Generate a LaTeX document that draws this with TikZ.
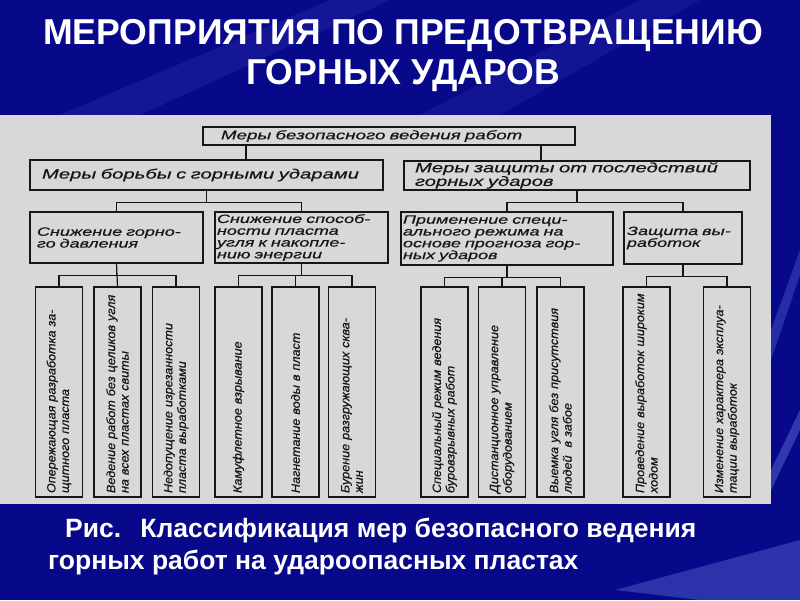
\documentclass[tikz,border=0pt]{standalone}
\usepackage{fontspec}
\setmainfont{Liberation Sans}
\newfontfamily\schemefont[FakeStretch=1.5,FakeBold=0.6]{Liberation Sans}
\newfontfamily\vertfont[FakeStretch=1.05,FakeBold=0.6]{Liberation Sans}
\newfontfamily\titlefont[FakeStretch=0.99]{Liberation Sans}
\usetikzlibrary{positioning}
\definecolor{colorbg}    {RGB}{8,8,138}
\definecolor{colorstreak}{RGB}{110,130,230}
\definecolor{colorpanel} {RGB}{216,216,216}
\definecolor{colortext}  {RGB}{22,22,22}

\begin{document}
\begin{tikzpicture}[
    x=1pt, y=-1pt,
    box/.style={draw=colortext,line width=1.2pt,rectangle,align=left,text=colortext,inner ysep=1pt},
    topbox/.style={box,font={\schemefont\itshape\fontsize{13.5}{12.5}\selectfont}},
    midbox/.style={box,font={\schemefont\itshape\fontsize{12}{11.8}\selectfont},minimum height=51pt},
    vbox/.style={box,rotate=90,font={\vertfont\itshape\fontsize{12}{13.5}\selectfont},minimum width=210pt,minimum height=47pt,text width=202pt,inner xsep=4pt},
    link/.style={draw=colortext,line width=1.2pt},
    title/.style={text=white,align=center,font={\titlefont\bfseries\fontsize{36}{40}\selectfont}},
    caption/.style={text=white,align=left,font={\bfseries\fontsize{26.5}{32}\selectfont}},
]
    \useasboundingbox (0,0) rectangle (800,600);

    % Background
    \fill[colorbg] (0,0) rectangle (800,600);
    \fill[colorstreak,opacity=.12] (60,115) -- (330,0) -- (390,0) -- (140,115) -- cycle;
    \fill[colorstreak,opacity=.10] (420,115) -- (640,0) -- (700,0) -- (500,115) -- cycle;
    \fill[colorstreak,opacity=.30] (771,330) -- (800,250) -- (800,275) -- (771,360) -- cycle;
    \fill[colorstreak,opacity=.40] (771,470) -- (800,410) -- (800,430) -- (771,490) -- cycle;
    \fill[colorstreak,opacity=.35] (615,590) -- (800,540) -- (800,600) -- (700,600) -- cycle;

    % Panel
    \fill[colorpanel] (0,115) rectangle (771,504);

    % Title and caption
    \node[title] (title) at (403,56) {МЕРОПРИЯТИЯ ПО ПРЕДОТВРАЩЕНИЮ\\ГОРНЫХ УДАРОВ};
    \node[caption,anchor=north west,inner sep=0pt] (caption) at (48,518)
        {\hspace*{17pt}Рис.\ \ \,Классификация мер безопасного ведения\\горных работ на удароопасных пластах};

    % Levels 1 and 2
    \node[topbox,font={\schemefont\itshape\fontsize{12.5}{11}\selectfont},inner xsep=18pt,text width=336pt,minimum height=18pt] (safe) at (389,136) {Меры безопасного ведения работ};
    \node[topbox,inner xsep=12pt,text width=329pt,minimum height=30pt] (fight) at (206.5,175) {Меры борьбы с горными ударами};
    \node[topbox,inner xsep=11pt,text width=324pt,minimum height=29pt] (protect) at (577,175.5) {Меры защиты от последствий\\горных ударов};

    \node[midbox,inner xsep=7pt,text width=159pt] (pressure) at (116.5,237.5) {Снижение горно-\\го давления};
    \node[midbox,inner xsep=2pt,text width=169pt] (energy) at (301.5,237.5) {Снижение способ-\\ности пласта\\угля к накопле-\\нию энергии};
    \node[midbox,inner xsep=2pt,text width=208pt,minimum height=53pt] (regime) at (507,238.5) {Применение специ-\\ального режима на\\основе прогноза гор-\\ных ударов};
    \node[midbox,inner xsep=3pt,text width=112pt,minimum height=52pt] (workings) at (683,238) {Защита вы-\\работок};

    % Level 3
    \node[vbox] (advance)  at (59,392)    {Опережающая разработка за-\\щитного пласта};
    \node[vbox] (pillars)  at (117.5,392) {Ведение работ без целиков угля\\на всех пластах свиты};
    \node[vbox] (cutting)  at (176,392)   {Недопущение изрезанности\\пласта выработками};
    \node[vbox] (camouflet) at (238.5,392) {Камуфлетное взрывание};
    \node[vbox] (water)    at (295.5,392) {Нагнетание воды в пласт};
    \node[vbox] (drilling) at (352,392)   {Бурение разгружающих сква-\\жин};
    \node[vbox] (blasting) at (444.5,392) {Специальный режим ведения\\буровзрывных работ};
    \node[vbox] (remote)   at (502,392)   {Дистанционное управление\\оборудованием};
    \node[vbox] (nopeople) at (560.5,392) {Выемка угля без присутствия\\людей \ в забое};
    \node[vbox] (wide)     at (646.5,392) {Проведение выработок широким\\ходом};
    \node[vbox] (mode)     at (727,392)   {Изменение характера эксплуа-\\тации выработок};

    % Connections
    \coordinate (tapleft)  at (246,0);
    \coordinate (tapright) at (541,0);
    \draw[link] (safe.south -| tapleft) -- (fight.north -| tapleft);
    \draw[link] (safe.south -| tapright) -- (protect.north -| tapright);

    \draw[link] (fight.south) -- ++(0,12) -| (pressure.north);
    \draw[link] (fight.south) -- ++(0,12) -| (energy.north);
    \draw[link] (protect.south) -- ++(0,12) -| (regime.north);
    \draw[link] (protect.south) -- ++(0,12) -| (workings.north);

    \draw[link] (pressure.south) -- ++(0,12) -| (advance.east);
    \draw[link] (pressure.south) -- (pillars.east);
    \draw[link] (pressure.south) -- ++(0,12) -| (cutting.east);

    \draw[link] (energy.south) -- ++(0,12) -| (camouflet.east);
    \draw[link] (energy.south) -- ++(0,12) -| (water.east);
    \draw[link] (energy.south) -- ++(0,12) -| (drilling.east);

    \draw[link] (regime.south) -- ++(0,12) -| (blasting.east);
    \draw[link] (regime.south) -- ++(0,12) -| (remote.east);
    \draw[link] (regime.south) -- ++(0,12) -| (nopeople.east);

    \draw[link] (workings.south) -- ++(0,12) -| (wide.east);
    \draw[link] (workings.south) -- ++(0,12) -| (mode.east);

\end{tikzpicture}
\end{document}
